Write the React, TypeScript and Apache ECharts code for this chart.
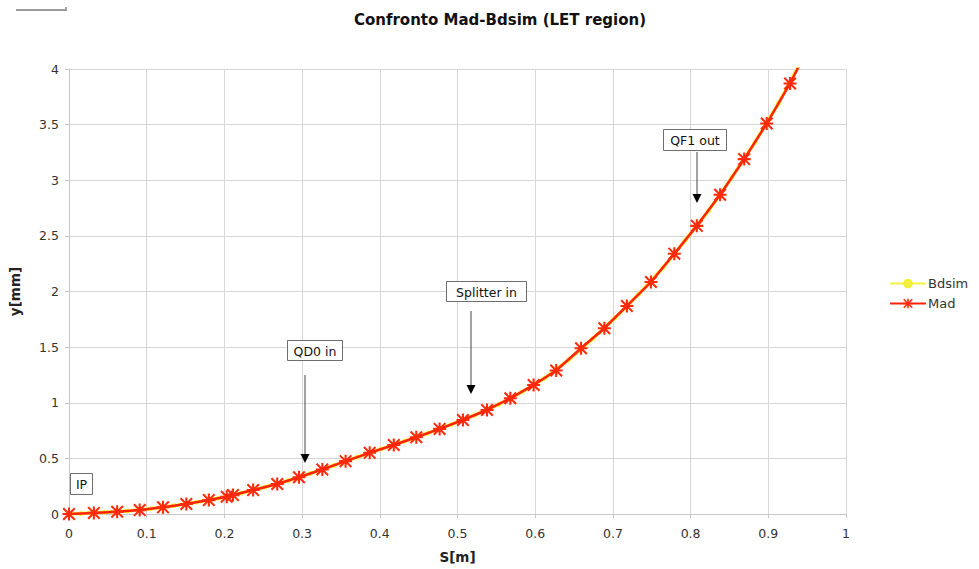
import React, { useEffect, useRef } from "react";
import * as echarts from "echarts";

// Mad optics: vertical beam offset along the line
const madS = [0, 0.032, 0.062, 0.091, 0.121, 0.151, 0.18, 0.203, 0.211, 0.237, 0.268, 0.296, 0.326, 0.356, 0.387, 0.418, 0.447, 0.477, 0.507, 0.538, 0.568, 0.598, 0.627, 0.659, 0.689, 0.718, 0.749, 0.779, 0.808, 0.838, 0.869, 0.898, 0.928, 0.958];
const madY = [0, 0.01, 0.02, 0.035, 0.06, 0.09, 0.125, 0.155, 0.17, 0.215, 0.27, 0.33, 0.4, 0.475, 0.55, 0.62, 0.69, 0.765, 0.845, 0.935, 1.04, 1.16, 1.29, 1.49, 1.67, 1.87, 2.085, 2.34, 2.59, 2.87, 3.19, 3.51, 3.87, 4.28];

// Bdsim tracking samples
const bdsimS = [0, 0.015, 0.045, 0.075, 0.105, 0.135, 0.165, 0.193, 0.222, 0.252, 0.282, 0.311, 0.341, 0.371, 0.402, 0.432, 0.462, 0.492, 0.522, 0.553, 0.583, 0.612, 0.643, 0.674, 0.703, 0.733, 0.764, 0.793, 0.823, 0.853, 0.883, 0.913, 0.943];
const bdsimY = [0, 0.004, 0.015, 0.027, 0.047, 0.075, 0.107, 0.143, 0.188, 0.242, 0.3, 0.365, 0.437, 0.512, 0.585, 0.655, 0.727, 0.805, 0.888, 0.985, 1.097, 1.22, 1.385, 1.575, 1.765, 1.975, 2.21, 2.46, 2.725, 3.025, 3.345, 3.69, 4.08];

const seriesNames = ["Bdsim", "Mad"];

// Element markers: label, box (x, y, w, h), arrow (x, y0, y1)
const notes = [
  { label: "IP", box: [70, 473, 22, 21], arrow: null as null | number[] },
  { label: "QD0 in", box: [287, 340, 55, 20], arrow: [305, 375, 463] },
  { label: "Splitter in", box: [446, 281, 80, 20], arrow: [471, 311, 394] },
  { label: "QF1 out", box: [663, 129, 63, 21], arrow: [697, 152, 203] },
];

const FONT = "DejaVu Sans, Verdana, sans-serif";

// Asterisk marker built from four overlapping bars
const STAR =
  "path://M4.2 0L5.8 0L5.8 10L4.2 10Z M0 4.2L10 4.2L10 5.8L0 5.8Z M0 1.1L1.1 0L10 8.9L8.9 10Z M8.9 0L10 1.1L1.1 10L0 8.9Z";

export default function App() {
  const ref = useRef<HTMLDivElement>(null);

  useEffect(() => {
    if (!ref.current) return;
    const chart = echarts.init(ref.current, undefined, { renderer: "svg" });

    const graphics: any[] = [
      {
        type: "line",
        shape: { x1: 16, y1: 10, x2: 66, y2: 10 },
        style: { stroke: "#9a9a9a", lineWidth: 2 },
      },
      {
        type: "line",
        shape: { x1: 66, y1: 7, x2: 66, y2: 11 },
        style: { stroke: "#8a8a8a", lineWidth: 1.5 },
      },
    ];
    notes.forEach((n) => {
      const [bx, by, bw, bh] = n.box;
      graphics.push({
        type: "rect",
        shape: { x: bx + 0.5, y: by + 0.5, width: bw, height: bh },
        style: { fill: "#ffffff", stroke: "#6e6e6e", lineWidth: 1 },
        z: 10,
      });
      graphics.push({
        type: "text",
        x: bx + bw / 2 + 0.5,
        y: by + bh / 2 + 1,
        style: {
          text: n.label,
          font: `12.5px ${FONT}`,
          fill: "#111111",
          align: "center",
          verticalAlign: "middle",
        },
        z: 11,
      });
      if (n.arrow) {
        const [ax, y0, y1] = n.arrow;
        graphics.push({
          type: "line",
          shape: { x1: ax, y1: y0, x2: ax, y2: y1 - 8 },
          style: { stroke: "#444444", lineWidth: 1 },
          z: 10,
        });
        graphics.push({
          type: "polygon",
          shape: { points: [[ax - 4.5, y1 - 9], [ax + 4.5, y1 - 9], [ax, y1]] },
          style: { fill: "#000000" },
          z: 10,
        });
      }
    });

    chart.setOption({
      animation: false,
      backgroundColor: "#ffffff",
      textStyle: { fontFamily: FONT },
      title: {
        text: "Confronto Mad-Bdsim (LET region)",
        left: 495,
        top: 7,
        textAlign: "center",
        textStyle: { fontFamily: FONT, fontSize: 15, fontWeight: "bold", color: "#111111" },
      },
      legend: {
        orient: "vertical",
        left: 884,
        top: 272,
        itemWidth: 36,
        itemHeight: 12,
        itemGap: 7,
        data: seriesNames,
        textStyle: { fontFamily: FONT, fontSize: 13, color: "#333333", padding: [0, 0, 0, -3] },
      },
      grid: { left: 69, right: 133, top: 69, bottom: 55, containLabel: false },
      xAxis: {
        type: "value",
        min: 0,
        max: 1,
        interval: 0.1,
        name: "S[m]",
        nameLocation: "middle",
        nameGap: 36,
        nameTextStyle: { fontFamily: FONT, fontSize: 13.5, fontWeight: "bold", color: "#222222" },
        axisLine: { show: true, lineStyle: { color: "#c8c8c8", width: 1 } },
        axisTick: { show: true, length: 4, lineStyle: { color: "#c8c8c8" } },
        axisLabel: { fontFamily: FONT, fontSize: 12.5, color: "#333333", margin: 13 },
        splitLine: { show: true, lineStyle: { color: "#d6d6d6", width: 1 } },
      },
      yAxis: {
        type: "value",
        min: 0,
        max: 4,
        interval: 0.5,
        name: "y[mm]",
        nameLocation: "middle",
        nameGap: 47,
        nameRotate: 90,
        nameTextStyle: { fontFamily: FONT, fontSize: 13.5, fontWeight: "bold", color: "#222222" },
        axisLine: { show: true, lineStyle: { color: "#c8c8c8", width: 1 } },
        axisTick: { show: true, length: 4, lineStyle: { color: "#c8c8c8" } },
        axisLabel: { fontFamily: FONT, fontSize: 12.5, color: "#333333", margin: 10 },
        splitLine: { show: true, lineStyle: { color: "#d6d6d6", width: 1 } },
      },
      series: [
        {
          name: seriesNames[0],
          type: "line",
          data: bdsimS.map((s, i) => [s, bdsimY[i]]),
          symbol: "circle",
          symbolSize: 5,
          showAllSymbol: true,
          clip: true,
          itemStyle: { color: "#f4f03a" },
          lineStyle: { color: "#f4f23c", width: 3.5 },
          z: 2,
        },
        {
          name: seriesNames[1],
          type: "line",
          data: madS.map((s, i) => [s, madY[i]]),
          symbol: STAR,
          symbolSize: 13,
          showAllSymbol: true,
          clip: true,
          itemStyle: { color: "#ff2a0a" },
          lineStyle: { color: "#ff2208", width: 2.5 },
          z: 3,
        },
      ],
      graphic: graphics,
    });

    return () => chart.dispose();
  }, []);

  return <div ref={ref} style={{ width: 979, height: 569, position: "absolute", left: 0, top: 0 }} />;
}
